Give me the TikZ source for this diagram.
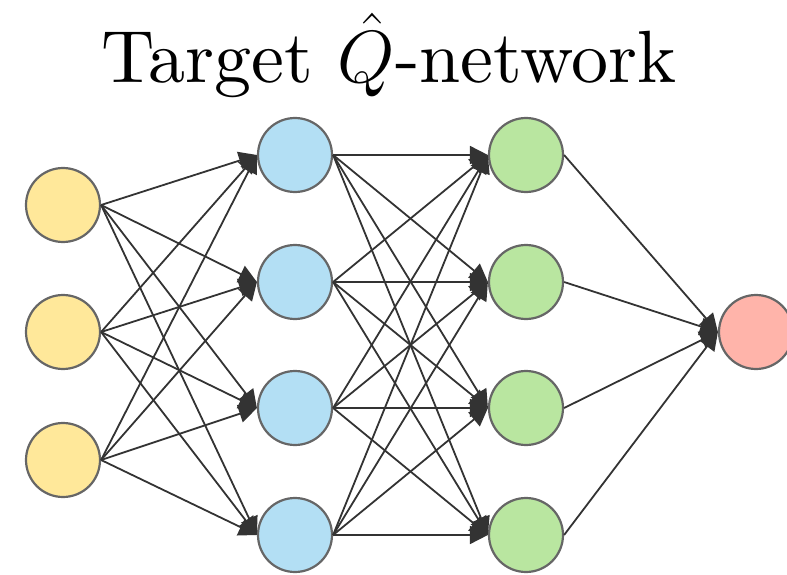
\documentclass[tikz,border=0pt]{standalone}
\usepackage{fix-cm}
\usepackage{fontspec}
\newfontfamily\titlerm{lmroman10-regular.otf}
\usetikzlibrary{arrows.meta}
\definecolor{inyellow}{HTML}{FFE89A}
\definecolor{hidblue}{HTML}{B3DFF4}
\definecolor{hidgreen}{HTML}{B9E6A0}
\definecolor{outred}{HTML}{FFB4AA}
\definecolor{rimgray}{HTML}{666666}
\definecolor{edgegray}{HTML}{333333}
\tikzset{
  neuron/.style={circle, draw=rimgray, line width=2.2pt, minimum size=74pt, inner sep=0pt},
  inneuron/.style={neuron, fill=inyellow},
  hidaneuron/.style={neuron, fill=hidblue},
  hidbneuron/.style={neuron, fill=hidgreen},
  outneuron/.style={neuron, fill=outred},
  link/.style={draw=edgegray, line width=1.8pt, -{Triangle[length=18pt,width=18pt]}},
}
\begin{document}
\begin{tikzpicture}[x=1pt,y=-1pt]
  \useasboundingbox (0,0) rectangle (787,575);
  \clip (0,0) rectangle (787,575);
  % title
  \node[anchor=base, inner sep=0pt] (title) at (389,83)
    {\titlerm\fontsize{74}{80}\selectfont Target $\hat{Q}$-network};
  % input layer
  \foreach \i/\y in {1/205,2/332,3/460}
    \node[inneuron] (i\i) at (63,\y) {};
  % first hidden layer
  \foreach \i/\y in {1/155,2/282,3/408,4/535}
    \node[hidaneuron] (a\i) at (295,\y) {};
  % second hidden layer
  \foreach \i/\y in {1/155,2/282,3/408,4/535}
    \node[hidbneuron] (b\i) at (526,\y) {};
  % output
  \node[outneuron] (o) at (756,332) {};
  % connections
  \foreach \s in {1,2,3}
    \foreach \t in {1,2,3,4}
      \draw[link] (i\s.east) -- (a\t.west);
  \foreach \s in {1,2,3,4}
    \foreach \t in {1,2,3,4}
      \draw[link] (a\s.east) -- (b\t.west);
  \foreach \s in {1,2,3,4}
    \draw[link] (b\s.east) -- (o.west);
\end{tikzpicture}
\end{document}
